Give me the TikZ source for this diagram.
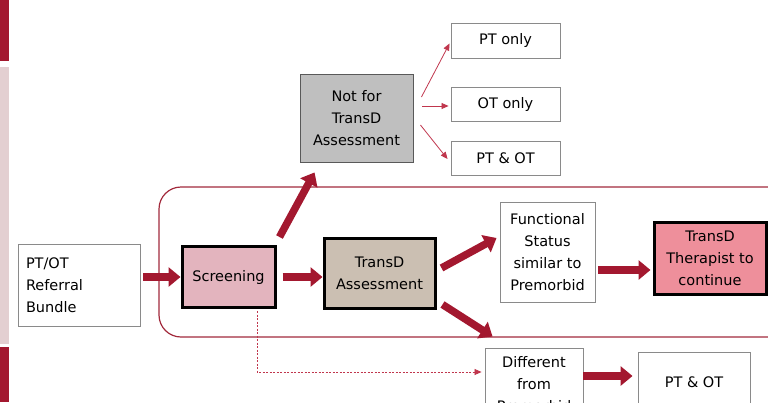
\documentclass[tikz,border=0pt]{standalone}
\usepackage{fontspec}
\setmainfont{DejaVu Sans}
\usetikzlibrary{arrows.meta,calc}
\definecolor{darkred}{HTML}{A3182F}
\definecolor{barpink}{HTML}{E3CFD1}
\definecolor{screenfill}{HTML}{E3B4BE}
\definecolor{transfill}{HTML}{CBBFB2}
\definecolor{notfill}{HTML}{BFBFBF}
\definecolor{therfill}{HTML}{EE8F9B}
\definecolor{thinred}{HTML}{C0364D}
\definecolor{framered}{HTML}{A22A3C}
\definecolor{boxgray}{HTML}{8A8A8A}
\tikzset{
  txt/.style={font=\fontsize{14.5}{22}\selectfont, align=center, inner sep=0pt},
  plainbox/.style={txt, draw=boxgray, line width=0.9pt, fill=white},
  boldbox/.style={txt, draw=black, line width=3pt},
  bigarrow/.style={draw=darkred, line width=7.5pt, -{Triangle[length=12pt,width=19pt]}},
  thinarrow/.style={draw=thinred, line width=0.8pt, -{Triangle[length=7pt,width=6pt]}},
  dotarrow/.style={draw=thinred, line width=0.8pt, dash pattern=on 2pt off 1.5pt, -{Triangle[length=7pt,width=6pt]}},
}
\begin{document}
\begin{tikzpicture}[x=1pt,y=-1pt]
\useasboundingbox (0,0) rectangle (768,402);
\clip (0,0) rectangle (768,402);
% left bars
\fill[darkred] (0,0) rectangle (9,61);
\fill[barpink] (0,67) rectangle (9,344);
\fill[darkred] (0,347) rectangle (9,402);
% container
\draw[framered, line width=1.2pt, rounded corners=22pt] (159,187) rectangle (790,337);
% nodes
\node[plainbox, minimum width=122pt, minimum height=82pt, text width=106pt, align=left, inner xsep=8pt] (ref) at (79,285) {PT/OT\\Referral\\Bundle};
\node[boldbox, fill=screenfill, minimum width=93pt, minimum height=61pt] (screen) at (228.5,277) {Screening};
\node[boldbox, fill=transfill, minimum width=111pt, minimum height=70pt] (trans) at (379.5,273) {TransD\\Assessment};
\node[txt, draw=gray!70!black, line width=0.9pt, fill=notfill, minimum width=113pt, minimum height=88pt] (notfor) at (356.5,118) {Not for\\TransD\\Assessment};
\node[plainbox, minimum width=109pt, minimum height=35pt] (ptonly) at (505.5,40.5) {PT only};
\node[plainbox, minimum width=109pt, minimum height=34pt] (otonly) at (505.5,104) {OT only};
\node[plainbox, minimum width=109pt, minimum height=34pt] (ptot1) at (505.5,158) {PT \& OT};
\node[plainbox, minimum width=95pt, minimum height=100pt] (func) at (547.5,252) {Functional\\Status\\similar to\\Premorbid};
\node[boldbox, fill=therfill, minimum width=112pt, minimum height=72pt] (ther) at (710,258) {TransD\\Therapist to\\continue};
\node[plainbox, minimum width=98pt, minimum height=72pt] (diff) at (534,384) {Different\\from\\Premorbid};
\node[plainbox, minimum width=112pt, minimum height=60pt] (ptot2) at (694,382) {PT \& OT};
% thick arrows
\draw[bigarrow] ([xshift=3pt]ref.east |- screen.center) -- (screen.west);
\draw[bigarrow] ([xshift=6pt]screen.east) -- (trans.west |- screen.east);
\draw[bigarrow] ($(screen.north east)+(3,-8)$) -- ($(notfor.south west)+(15,10)$);
\draw[bigarrow] ($(trans.east)+(5,-5)$) -- ($(func.west)+(-3,-14)$);
\draw[bigarrow] ($(trans.south east)+(6,-5)$) -- ($(diff.north west)+(8,-11)$);
\draw[bigarrow] ($(func.east)+(3,18)$) -- ($(ther.west)+(-2,12)$);
\draw[bigarrow] ($(diff.east)+(0,-8)$) -- ($(ptot2.west)+(-5,-6)$);
% thin arrows
\draw[thinarrow] ($(notfor.east)+(8,-21)$) -- ($(ptonly.west)+(-1,3)$);
\draw[thinarrow] ($(notfor.east)+(9,-12)$) -- ($(otonly.west)+(-2,2)$);
\draw[thinarrow] ($(notfor.east)+(7,7)$) -- ($(ptot1.west)+(-3,1)$);
% dotted
\draw[dotarrow] ($(screen.south)+(28.5,2)$) |- ($(diff.west)+(-3,-12)$);
\end{tikzpicture}
\end{document}
